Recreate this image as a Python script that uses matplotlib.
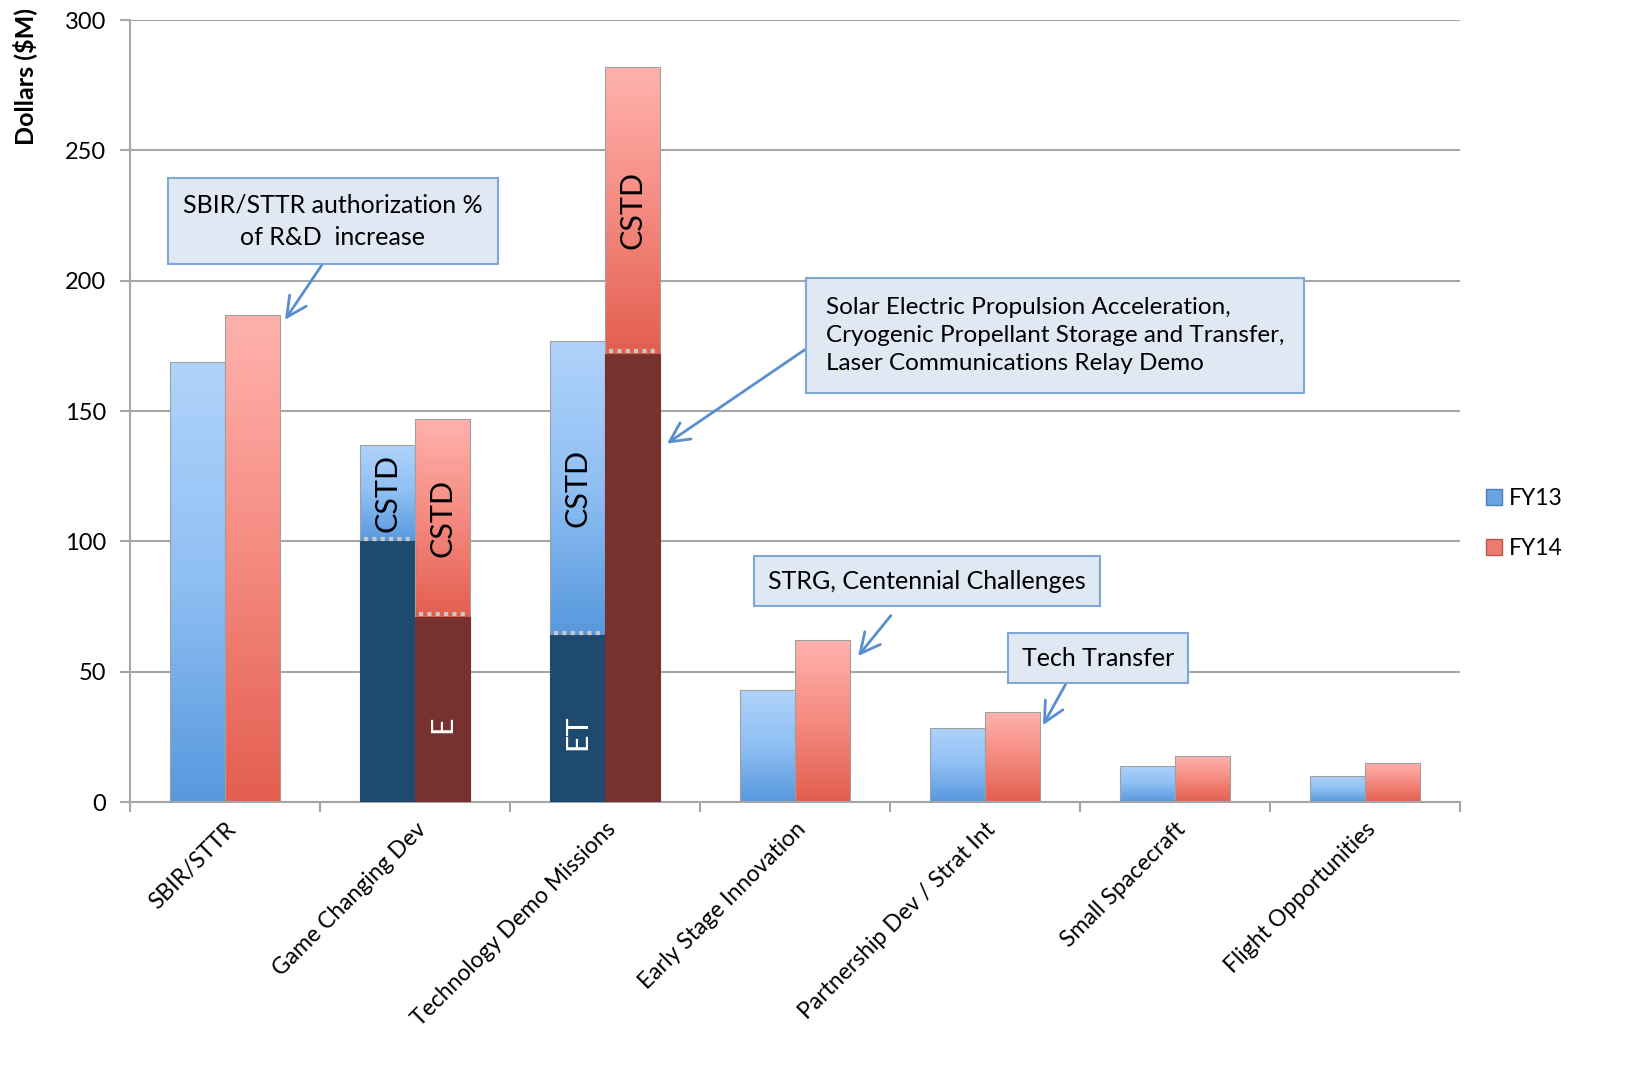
import matplotlib.pyplot as plt
import numpy as np
from matplotlib.colors import LinearSegmentedColormap
from matplotlib.patches import Patch

plt.rcParams['font.family'] = ['Lato', 'DejaVu Sans']

# data (values in $M)
categories = ['SBIR/STTR', 'Game Changing Dev', 'Technology Demo Missions',
              'Early Stage Innovation', 'Partnership Dev / Strat Int',
              'Small Spacecraft', 'Flight Opportunities']
fy13_total = [169, 137, 177, 43, 28.5, 14, 10]
fy14_total = [187, 147, 282, 62, 34.5, 17.5, 15]
# lower (non-CSTD) part of the stacked bars; 0 means no split
fy13_lower = [0, 100, 64, 0, 0, 0, 0]
fy14_lower = [0, 71, 172, 0, 0, 0, 0]
fy13_lower_label = ['', '', 'ET', '', '', '', '']
fy14_lower_label = ['', 'E', '', '', '', '', '']
fy13_upper_label = ['', 'CSTD', 'CSTD', '', '', '', '']
fy14_upper_label = ['', 'CSTD', 'CSTD', '', '', '', '']

blue_cmap = LinearSegmentedColormap.from_list('b', ['#5798de', '#8fbff3', '#b0d3fb'])
red_cmap = LinearSegmentedColormap.from_list('r', ['#e35e4f', '#f58a80', '#ffb2ad'])
dark_blue = '#1e4a70'
dark_red = '#77312f'

fig = plt.figure(figsize=(16.41, 10.84), dpi=100)
ax = fig.add_axes([0.0792, 0.2601, 0.8105, 0.7214])

x = np.arange(len(categories))
w = 0.29


def gradient_bar(xc, bottom, top, cmap):
    bar = ax.bar(xc, top - bottom, w, bottom=bottom, color='none',
                 edgecolor='#a0a0a0', linewidth=0.8, zorder=3)[0]
    grad = np.linspace(0, 1, 256).reshape(-1, 1)
    im = ax.imshow(grad, cmap=cmap, origin='lower', aspect='auto',
                   extent=[xc - w / 2, xc + w / 2, bottom, top], zorder=2)
    im.set_clip_path(bar)


for i in x:
    for off, tot, low, cmap, dark, lab_lo, lab_up in [
            (-w / 2, fy13_total[i], fy13_lower[i], blue_cmap, dark_blue,
             fy13_lower_label[i], fy13_upper_label[i]),
            (w / 2, fy14_total[i], fy14_lower[i], red_cmap, dark_red,
             fy14_lower_label[i], fy14_upper_label[i])]:
        xc = i + off
        gradient_bar(xc, low, tot, cmap)
        if low > 0:
            ax.bar(xc, low, w, color=dark, edgecolor=dark, linewidth=0.8, zorder=3)
            ax.hlines(low + 1, xc - w / 2 + 0.02, xc + w / 2 - 0.02, colors='#c8c8c8',
                      linestyles=(0, (1, 1)), linewidth=3, zorder=4)
            if lab_lo:
                ax.text(xc, low * 0.42, lab_lo, rotation=90, color='white',
                        fontsize=22, ha='center', va='center', zorder=5)
        if lab_up:
            ax.text(xc, low + (tot - low) * 0.5, lab_up, rotation=90, color='black',
                    fontsize=22, ha='center', va='center', zorder=5)

ax.set_xlim(-0.5, len(categories) - 0.5)
ax.set_ylim(0, 300)
ax.set_yticks(np.arange(0, 301, 50))
ax.yaxis.grid(True, color='#a6a6a6', linewidth=1.5, zorder=0)
ax.set_axisbelow(True)
for s in ['top', 'right']:
    ax.spines[s].set_visible(False)
for s in ['left', 'bottom']:
    ax.spines[s].set_color('#a6a6a6')
    ax.spines[s].set_linewidth(1.5)

ax.set_xticks(x)
ax.set_xticklabels(categories, rotation=45, ha='right', rotation_mode='anchor',
                   fontsize=16.5)
ax.set_xticks(np.arange(-0.5, len(categories), 1), minor=True)
ax.tick_params(axis='x', which='major', length=0, pad=12)
ax.tick_params(axis='x', which='minor', length=7, color='#a6a6a6', width=1.5)
ax.tick_params(axis='y', length=7, color='#a6a6a6', width=1.5, labelsize=17, pad=10)
fig.text(25 / 1641, 1 - 8 / 1084, 'Dollars ($M)', rotation=90, fontsize=18,
         fontweight='bold', ha='center', va='top')

# call-out boxes
box = dict(boxstyle='square,pad=0.7', facecolor='#dfe8f3', edgecolor='#7fa8d8', linewidth=1.5)


def arrow(rx, ry, gap=0):
    return dict(arrowstyle='->,head_length=0.8,head_width=0.4', color='#5a8fcf',
                linewidth=2, relpos=(rx, ry), shrinkA=gap, shrinkB=0)


ax.annotate('SBIR/STTR authorization %\nof R&D  increase', xy=(0.316, 185), xytext=(0.568, 223),
            ha='center', va='center', fontsize=18, linespacing=1.5,
            bbox=dict(box, boxstyle='square,pad=0.6'), arrowprops=arrow(0.5, 0), zorder=6)
ax.annotate('Solar Electric Propulsion Acceleration,\nCryogenic Propellant Storage and Transfer,\n'
            'Laser Communications Relay Demo', xy=(2.326, 137.5), xytext=(4.368, 179),
            ha='center', va='center', multialignment='left', fontsize=17.5, linespacing=1.4,
            bbox=dict(box, boxstyle='square,pad=0.8'), arrowprops=arrow(0, 0.5), zorder=6)
ax.annotate('STRG, Centennial Challenges', xy=(3.332, 56), xytext=(3.695, 84.8),
            ha='center', va='center', fontsize=18,
            bbox=dict(box, boxstyle='square,pad=0.55'), arrowprops=arrow(0.445, 0, 8), zorder=6)
ax.annotate('Tech Transfer', xy=(4.305, 29.5), xytext=(4.595, 55.2),
            ha='center', va='center', fontsize=18,
            bbox=dict(box, boxstyle='square,pad=0.55'), arrowprops=arrow(0.34, 0), zorder=6)

handles = [Patch(facecolor='#6aa4e4', edgecolor='#4a7fb8'),
           Patch(facecolor='#ee7a70', edgecolor='#b85a50')]
fig.legend(handles, ['FY13', 'FY14'], loc='center left', bbox_to_anchor=(0.9, 0.517),
           frameon=False, fontsize=16.5, handlelength=0.7, handleheight=0.7,
           handletextpad=0.3, labelspacing=1.3, borderaxespad=0)

fig.savefig('out.png', dpi=100)
